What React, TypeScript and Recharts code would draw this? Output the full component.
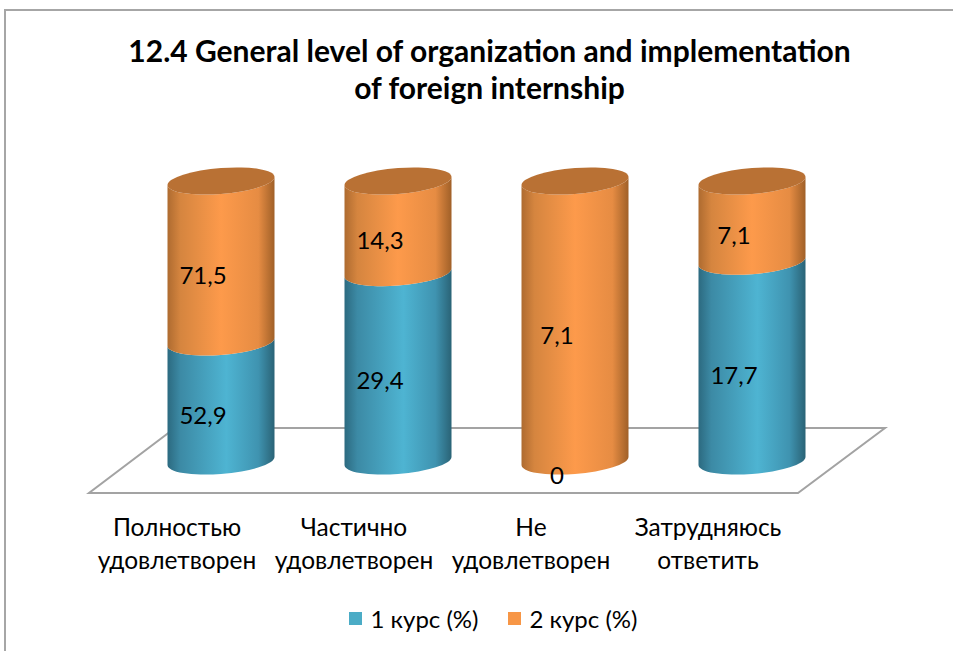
import { Bar, BarChart, LabelList, Legend, XAxis, YAxis, usePlotArea } from "recharts";

const categories = ["Полностью удовлетворен", "Частично удовлетворен", "Не удовлетворен", "Затрудняюсь ответить"];
const course1 = [52.9, 29.4, 0, 17.7];
const course2 = [71.5, 14.3, 7.1, 7.1];
const seriesNames = ["1 курс (%)", "2 курс (%)"];
const titleLines = ["12.4 General level of organization and implementation", "of foreign internship"];

const data = categories.map((name, i) => ({ name, course1: course1[i], course2: course2[i] }));

const FONT = "Lato, 'Open Sans', sans-serif";
const BLUE = "#4BACC6";
const ORANGE = "#F79646";
const CAP = "#B97134";
const FLOOR_LINE = "#A3A3A3";
const RY = 13;
const SKEW = -4.3;
const LABEL_DX = -18;
const LABEL_DY = 13;
const TICK_DX = -44;

function cylinderPath(rx: number, top: number, bottom: number) {
  return `M ${-rx} ${top} A ${rx} ${RY} 0 0 0 ${rx} ${top} L ${rx} ${bottom} A ${rx} ${RY} 0 0 1 ${-rx} ${bottom} Z`;
}

function Segment(props: any) {
  const { x, y, width, height, fill, withCap } = props;
  if (!height || height <= 0) return null;
  const rx = width / 2;
  return (
    <g transform={`translate(${x + rx} 0) skewY(${SKEW})`}>
      <path d={cylinderPath(rx, y, y + height)} fill={fill} />
      {withCap && <ellipse cx={0} cy={y} rx={rx} ry={RY} fill={CAP} />}
    </g>
  );
}

function Floor() {
  const plot = usePlotArea();
  if (!plot) return null;
  const left = plot.x;
  const right = plot.x + plot.width;
  const bottom = plot.y + plot.height;
  const points = [
    [left - 43.5, bottom + 32],
    [right - 42.5, bottom + 32],
    [right + 44.5, bottom - 33],
    [left + 42.5, bottom - 33],
  ];
  return <polygon points={points.map((p) => p.join(",")).join(" ")} fill="#fff" stroke={FLOOR_LINE} strokeWidth={2} />;
}

function CategoryTick({ x, y, payload }: any) {
  const lines = String(payload.value).split(" ");
  return (
    <text x={x + TICK_DX} y={y + 17} textAnchor="middle" fontFamily={FONT} fontSize={24.5} fill="#000">
      {lines.map((line, i) => (
        <tspan key={line} x={x + TICK_DX} dy={i === 0 ? 0 : 33}>
          {line}
        </tspan>
      ))}
    </text>
  );
}

function ValueLabel({ x, y, width, height, value }: any) {
  return (
    <text
      x={x + width / 2 + LABEL_DX}
      y={y + height / 2 + LABEL_DY}
      textAnchor="middle"
      dominantBaseline="central"
      fontFamily={FONT}
      fontSize={24}
      fill="#000"
    >
      {String(value).replace(".", ",")}
    </text>
  );
}

function ChartLegend() {
  const colors = [BLUE, ORANGE];
  return (
    <div style={{ display: "flex", justifyContent: "center", gap: 29, fontFamily: FONT, fontSize: 24, color: "#000" }}>
      {seriesNames.map((name, i) => (
        <span key={name} style={{ display: "flex", alignItems: "center", gap: 9 }}>
          <span style={{ width: 13, height: 13, background: colors[i], display: "inline-block" }} />
          {name}
        </span>
      ))}
    </div>
  );
}

export default function App() {
  return (
    <div style={{ position: "absolute", left: 0, top: 0, width: 953, height: 651, background: "#fff", overflow: "hidden" }}>
      <div style={{ position: "absolute", left: 4, top: 9, width: 960, height: 660, borderLeft: "2px solid #A6A6A6", borderTop: "2px solid #A6A6A6" }} />
      <div
        style={{
          position: "absolute",
          left: 0,
          top: 32,
          width: 979,
          textAlign: "center",
          fontFamily: FONT,
          fontWeight: 700,
          fontSize: 30,
          lineHeight: "37px",
          color: "#000",
        }}
      >
        {titleLines.map((line) => (
          <div key={line}>{line}</div>
        ))}
      </div>
      <BarChart
        width={953}
        height={651}
        data={data}
        stackOffset="expand"
        margin={{ top: 181, right: 112.5, bottom: 90, left: 132.5 }}
        style={{ position: "absolute", left: 0, top: 0 }}
      >
        <defs>
          <linearGradient id="blueFill" x1="0" y1="0" x2="1" y2="0">
            <stop offset="0%" stopColor="#2C6A80" />
            <stop offset="12%" stopColor="#3C8AA5" />
            <stop offset="55%" stopColor="#4EB4D2" />
            <stop offset="85%" stopColor="#3F93B0" />
            <stop offset="100%" stopColor="#2A6376" />
          </linearGradient>
          <linearGradient id="orangeFill" x1="0" y1="0" x2="1" y2="0">
            <stop offset="0%" stopColor="#AE6B30" />
            <stop offset="12%" stopColor="#D5853F" />
            <stop offset="50%" stopColor="#FD9A4B" />
            <stop offset="85%" stopColor="#E68C43" />
            <stop offset="100%" stopColor="#A06028" />
          </linearGradient>
        </defs>
        <Floor />
        <XAxis dataKey="name" height={100} tickLine={false} axisLine={false} interval={0} tick={<CategoryTick />} tickMargin={52} />
        <YAxis hide domain={[0, 1]} />
        <Legend layout="horizontal" verticalAlign="middle" align="center" content={<ChartLegend />} wrapperStyle={{ top: 604, left: 0, width: 986, height: 32 }} />
        <Bar dataKey="course1" stackId="a" barSize={107} fill="url(#blueFill)" shape={<Segment />} isAnimationActive={false}>
          <LabelList dataKey="course1" content={<ValueLabel />} />
        </Bar>
        <Bar dataKey="course2" stackId="a" barSize={107} fill="url(#orangeFill)" shape={<Segment withCap />} isAnimationActive={false}>
          <LabelList dataKey="course2" content={<ValueLabel />} />
        </Bar>
      </BarChart>
    </div>
  );
}
